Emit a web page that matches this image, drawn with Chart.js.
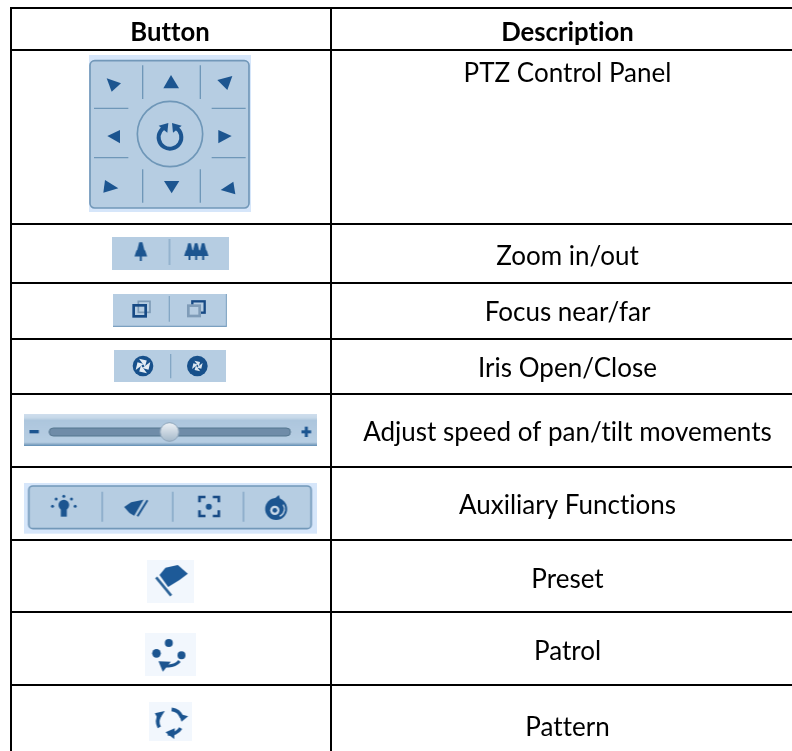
<!DOCTYPE html>
<html>
<head>
<meta charset="utf-8">
<title>PTZ buttons</title>
<script src="https://cdn.jsdelivr.net/npm/chart.js@4"></script>
<style>
    html, body { margin: 0; padding: 0; background: #ffffff; }
    canvas { display: block; }
</style>
</head>
<body>
<canvas id="tableChart" width="792" height="751"></canvas>
<script>
const columnHeaders = ["Button", "Description"];
const descriptions = [
    "PTZ Control Panel", "Zoom in/out", "Focus near/far", "Iris Open/Close",
    "Adjust speed of pan/tilt movements", "Auxiliary Functions", "Preset", "Patrol", "Pattern"
];
const iconNames = ["panel", "zoom", "focus", "iris", "slider", "aux", "preset", "patrol", "pattern"];

// table rules and cell centres, in axis units
const columnEdges = [10.5, 331];
const rowEdges = [8, 50, 224, 283, 339, 393.5, 467, 540, 612, 685];
const columnCentres = [170, 567.5];
const headerRow = [33, 33];
const iconRows = [133.5, 253.5, 310.5, 366, 430, 508.5, 581.5, 654.5, 721.5];
const descriptionRows = [74, 257, 313, 369, 433, 506, 580, 652, 728];

const DARK = "#1c5590";
const FACE = "#b6cde2";
const EDGE = "#7ba0c0";
const RULE = "#84a7c5";
const HALO = "#d6e6fa";
const PALE = "#f2f7fd";

function poly(ctx, pts, color) {
    ctx.fillStyle = color || DARK;
    ctx.beginPath();
    pts.forEach((p, i) => i ? ctx.lineTo(p[0], p[1]) : ctx.moveTo(p[0], p[1]));
    ctx.closePath();
    ctx.fill();
}

function line(ctx, x1, y1, x2, y2, color, w) {
    ctx.strokeStyle = color || RULE;
    ctx.lineWidth = w || 4;
    ctx.beginPath();
    ctx.moveTo(x1, y1);
    ctx.lineTo(x2, y2);
    ctx.stroke();
}

function dot(ctx, x, y, r, color) {
    ctx.fillStyle = color || DARK;
    ctx.beginPath();
    ctx.arc(x, y, r, 0, Math.PI * 2);
    ctx.fill();
}

function rounded(ctx, x, y, w, h, r, fill, stroke, lw) {
    ctx.beginPath();
    ctx.roundRect(x, y, w, h, r);
    ctx.fillStyle = fill;
    ctx.fill();
    if (stroke) {
        ctx.strokeStyle = stroke;
        ctx.lineWidth = lw;
        ctx.stroke();
    }
}

function tree(ctx, x, top, bottom, half) {
    const h = bottom - top;
    poly(ctx, [[x - half * 0.25, top], [x + half * 0.25, top], [x + half * 0.55, top + h * 0.4],
        [x + half * 0.7, top + h * 0.45], [x + half, top + h * 0.76], [x - half, top + h * 0.76],
        [x - half * 0.7, top + h * 0.45], [x - half * 0.55, top + h * 0.4]]);
    line(ctx, x, top + h * 0.6, x, bottom, DARK, 6);
}

function pinwheel(ctx, x, y, r, blades, color) {
    for (let i = 0; i < blades; i++) {
        const a = i * Math.PI * 2 / blades - 0.5;
        poly(ctx, [
            [x + Math.cos(a) * r, y + Math.sin(a) * r],
            [x + Math.cos(a + 1.1) * r * 0.8, y + Math.sin(a + 1.1) * r * 0.8],
            [x + Math.cos(a + 2.4) * r * 0.25, y + Math.sin(a + 2.4) * r * 0.25]
        ], color);
    }
}

// every icon is drawn in 3x crop units, relative to the crop's own origin
const iconDrawers = {
    panel: { box: [267, 165, 753, 636], draw(ctx) {
        ctx.fillStyle = HALO;
        ctx.fillRect(267, 165, 486, 471);
        rounded(ctx, 270, 182, 477, 442, 14, FACE, "#7298b9", 5);
        [[428, 196, 428, 297], [601, 196, 601, 297], [428, 508, 428, 608], [601, 508, 601, 608],
            [282, 325, 385, 325], [635, 325, 737, 325], [282, 473, 385, 473], [635, 473, 737, 473]
        ].forEach(l => line(ctx, l[0], l[1], l[2], l[3], "#6f97b8", 4));
        ctx.strokeStyle = "#6f97b8";
        ctx.lineWidth = 5;
        ctx.beginPath();
        ctx.arc(510, 402, 98, 0, Math.PI * 2);
        ctx.stroke();
        [
            [[320, 235], [363, 250], [335, 275]], [[513, 225], [490, 265], [537, 265]],
            [[697, 228], [652, 240], [682, 270]], [[322, 408], [360, 390], [360, 430]],
            [[695, 408], [655, 390], [655, 430]], [[315, 540], [355, 565], [310, 578]],
            [[492, 543], [538, 543], [515, 580]], [[700, 545], [662, 570], [706, 583]]
        ].forEach(t => poly(ctx, t));
        ctx.strokeStyle = DARK;
        ctx.lineWidth = 12;
        ctx.beginPath();
        ctx.arc(510, 412, 34, -1.0, Math.PI + 1.0);
        ctx.stroke();
        poly(ctx, [[476, 377], [505, 369], [502, 398]]);
        poly(ctx, [[545, 377], [516, 369], [519, 398]]);
    } },
    zoom: { box: [336, 261, 687, 360], draw(ctx) {
        ctx.fillStyle = FACE;
        ctx.fillRect(336, 261, 351, 99);
        line(ctx, 510, 267, 510, 345);
        tree(ctx, 424, 277, 333, 19);
        tree(ctx, 570, 280, 330, 16);
        tree(ctx, 590, 280, 330, 16);
        tree(ctx, 611, 280, 330, 16);
    } },
    focus: { box: [339, 432, 681, 531], draw(ctx) {
        ctx.fillStyle = FACE;
        ctx.fillRect(339, 432, 341, 98);
        line(ctx, 339, 529, 680, 529, EDGE, 4);
        line(ctx, 679, 432, 679, 530, EDGE, 3);
        line(ctx, 508, 438, 508, 515);
        ctx.lineJoin = "miter";
        ctx.strokeStyle = "#7f9cb8";
        ctx.lineWidth = 5;
        ctx.strokeRect(415, 454, 35, 33);
        ctx.strokeStyle = "#174a85";
        ctx.lineWidth = 8;
        ctx.strokeRect(401, 466, 36, 33);
        ctx.strokeStyle = "#174a85";
        ctx.lineWidth = 7;
        ctx.strokeRect(577, 454, 37, 34);
        ctx.fillStyle = FACE;
        ctx.fillRect(560, 464, 40, 36);
        ctx.strokeStyle = "#7f9cb8";
        ctx.lineWidth = 8;
        ctx.strokeRect(565, 467, 34, 31);
    } },
    iris: { box: [342, 600, 678, 696], draw(ctx) {
        ctx.fillStyle = FACE;
        ctx.fillRect(342, 600, 336, 96);
        line(ctx, 512, 612, 512, 685);
        dot(ctx, 429, 648, 31, "#17508b");
        pinwheel(ctx, 429, 648, 25, 4, "#e3ecf4");
        dot(ctx, 592, 648, 31, "#17508b");
        pinwheel(ctx, 592, 648, 18, 4, "#dbe6f0");
    } },
    slider: { box: [72, 452, 951, 548], draw(ctx) {
        const band = ctx.createLinearGradient(0, 452, 0, 548);
        band.addColorStop(0, "#cfdeed");
        band.addColorStop(0.12, "#c6d8e8");
        band.addColorStop(0.2, "#adc6dd");
        band.addColorStop(0.88, "#b7cee3");
        band.addColorStop(0.94, "#8eadc9");
        band.addColorStop(1, "#5f8db4");
        ctx.fillStyle = band;
        ctx.fillRect(72, 452, 879, 96);
        ctx.fillStyle = DARK;
        ctx.fillRect(90, 500, 28, 10);
        ctx.fillRect(906, 501, 29, 9);
        ctx.fillRect(916, 490, 9, 31);
        rounded(ctx, 149, 494, 724, 24, 12, "#6f8ca8", "#55768f", 3);
        const knob = ctx.createLinearGradient(0, 478, 0, 535);
        knob.addColorStop(0, "#eef2f6");
        knob.addColorStop(1, "#a3b7c9");
        dot(ctx, 510, 506, 28, knob);
        ctx.strokeStyle = "#8ea5ba";
        ctx.lineWidth = 3;
        ctx.stroke();
    } },
    aux: { box: [72, 40, 951, 192], draw(ctx) {
        ctx.fillStyle = HALO;
        ctx.fillRect(72, 40, 879, 152);
        rounded(ctx, 88, 49, 847, 128, 12, FACE, "#7298b9", 5);
        [308, 520, 732].forEach(x => line(ctx, x, 66, x, 156, "#7fa3c3", 4));
        // lamp
        dot(ctx, 193, 106, 16);
        ctx.fillStyle = DARK;
        ctx.fillRect(184, 116, 18, 25);
        [[193, 80], [170, 88], [216, 88], [159, 110], [227, 110]].forEach(p => dot(ctx, p[0], p[1], 4.5));
        // wiper
        poly(ctx, [[374, 112], [395, 98], [432, 90], [404, 138], [390, 130]]);
        line(ctx, 444, 92, 414, 140, DARK, 6);
        // focus frame
        ctx.strokeStyle = "#174a85";
        ctx.lineWidth = 8;
        [[600, 98, 600, 82, 618, 82], [640, 82, 658, 82, 658, 98],
            [658, 122, 658, 139, 640, 139], [618, 139, 600, 139, 600, 122]].forEach(b => {
            ctx.beginPath();
            ctx.moveTo(b[0], b[1]);
            ctx.lineTo(b[2], b[3]);
            ctx.lineTo(b[4], b[5]);
            ctx.stroke();
        });
        dot(ctx, 628, 111, 9);
        // rotate
        dot(ctx, 830, 118, 33);
        dot(ctx, 826, 122, 14, "#c8d8e8");
        dot(ctx, 826, 122, 7);
        poly(ctx, [[810, 100], [838, 76], [846, 102]]);
        ctx.strokeStyle = "#c8d8e8";
        ctx.lineWidth = 4;
        ctx.beginPath();
        ctx.arc(832, 118, 23, -0.6, 1.2);
        ctx.stroke();
    } },
    preset: { box: [141, 45, 282, 174], draw(ctx) {
        ctx.fillStyle = PALE;
        ctx.fillRect(141, 45, 141, 129);
        line(ctx, 170, 97, 215, 152, "#2d6499", 8);
        poly(ctx, [[180, 90], [198, 68], [235, 60], [265, 86], [240, 105], [206, 126]], "#1d5a98");
    } },
    patrol: { box: [135, 264, 288, 393], draw(ctx) {
        ctx.fillStyle = PALE;
        ctx.fillRect(135, 264, 153, 129);
        dot(ctx, 208, 294, 12);
        dot(ctx, 171, 325, 13);
        dot(ctx, 246, 331, 12);
        ctx.strokeStyle = DARK;
        ctx.lineWidth = 9;
        ctx.beginPath();
        ctx.moveTo(240, 348);
        ctx.quadraticCurveTo(225, 366, 198, 362);
        ctx.stroke();
        poly(ctx, [[177, 349], [214, 350], [190, 380]]);
    } },
    pattern: { box: [147, 471, 276, 588], draw(ctx) {
        ctx.fillStyle = PALE;
        ctx.fillRect(147, 471, 129, 117);
        ctx.strokeStyle = DARK;
        ctx.lineWidth = 11;
        ctx.beginPath();
        ctx.arc(212, 530, 37, -1.45, -0.35);
        ctx.stroke();
        ctx.beginPath();
        ctx.arc(212, 530, 37, 0.55, 1.75);
        ctx.stroke();
        ctx.beginPath();
        ctx.arc(212, 530, 37, 2.65, 3.75);
        ctx.stroke();
        poly(ctx, [[238, 506], [266, 514], [246, 530]]);
        poly(ctx, [[226, 550], [224, 582], [198, 562]]);
        poly(ctx, [[166, 505], [196, 498], [178, 526]]);
    } }
};

// turn each icon into a small canvas the chart can use as a point style
function buildIcon(name) {
    const def = iconDrawers[name];
    const c = document.createElement("canvas");
    c.width = Math.round((def.box[2] - def.box[0]) / 3);
    c.height = Math.round((def.box[3] - def.box[1]) / 3);
    const ctx = c.getContext("2d");
    ctx.filter = "blur(0.45px)";
    ctx.scale(1 / 3, 1 / 3);
    ctx.translate(-def.box[0], -def.box[1]);
    def.draw(ctx);
    return c;
}

const cellText = {
    id: "cellText",
    afterDatasetsDraw(chart) {
        const ctx = chart.ctx;
        ctx.save();
        ctx.fillStyle = "#000000";
        ctx.textAlign = "center";
        ctx.textBaseline = "middle";
        ctx.letterSpacing = "0.01px"; // stops the "ti" ligature
        chart.getDatasetMeta(1).data.forEach((pt, i) => {
            ctx.font = "bold 25.7px Lato, Carlito, sans-serif";
            ctx.fillText(columnHeaders[i], pt.x, pt.y);
        });
        chart.getDatasetMeta(2).data.forEach((pt, i) => {
            ctx.font = "26px Lato, Carlito, sans-serif";
            ctx.fillText(descriptions[i], pt.x, pt.y);
        });
        ctx.restore();
    }
};

new Chart(document.getElementById("tableChart"), {
    type: "scatter",
    data: {
        datasets: [
            {
                label: "Button",
                data: iconRows.map(y => ({ x: columnCentres[0], y })),
                pointStyle: iconNames.map(buildIcon),
                pointRadius: 1
            },
            {
                label: "Header",
                data: headerRow.map((y, i) => ({ x: columnCentres[i], y })),
                pointRadius: 0
            },
            {
                label: "Description",
                data: descriptionRows.map(y => ({ x: columnCentres[1], y })),
                pointRadius: 0
            }
        ]
    },
    options: {
        responsive: false,
        animation: false,
        layout: { autoPadding: false, padding: { left: 10, top: 8, right: 0, bottom: 0 } },
        plugins: {
            legend: { display: false },
            tooltip: { enabled: false }
        },
        scales: {
            x: {
                type: "linear",
                min: 10,
                max: 792,
                afterBuildTicks: axis => { axis.ticks = columnEdges.map(value => ({ value })); },
                ticks: { display: false },
                border: { display: false },
                grid: { color: "#000000", lineWidth: 2, drawTicks: false }
            },
            y: {
                type: "linear",
                reverse: true,
                min: 8,
                max: 751,
                afterBuildTicks: axis => { axis.ticks = rowEdges.map(value => ({ value })); },
                ticks: { display: false },
                border: { display: false },
                grid: { color: "#000000", lineWidth: 2, drawTicks: false }
            }
        }
    },
    plugins: [cellText]
});
</script>
</body>
</html>
